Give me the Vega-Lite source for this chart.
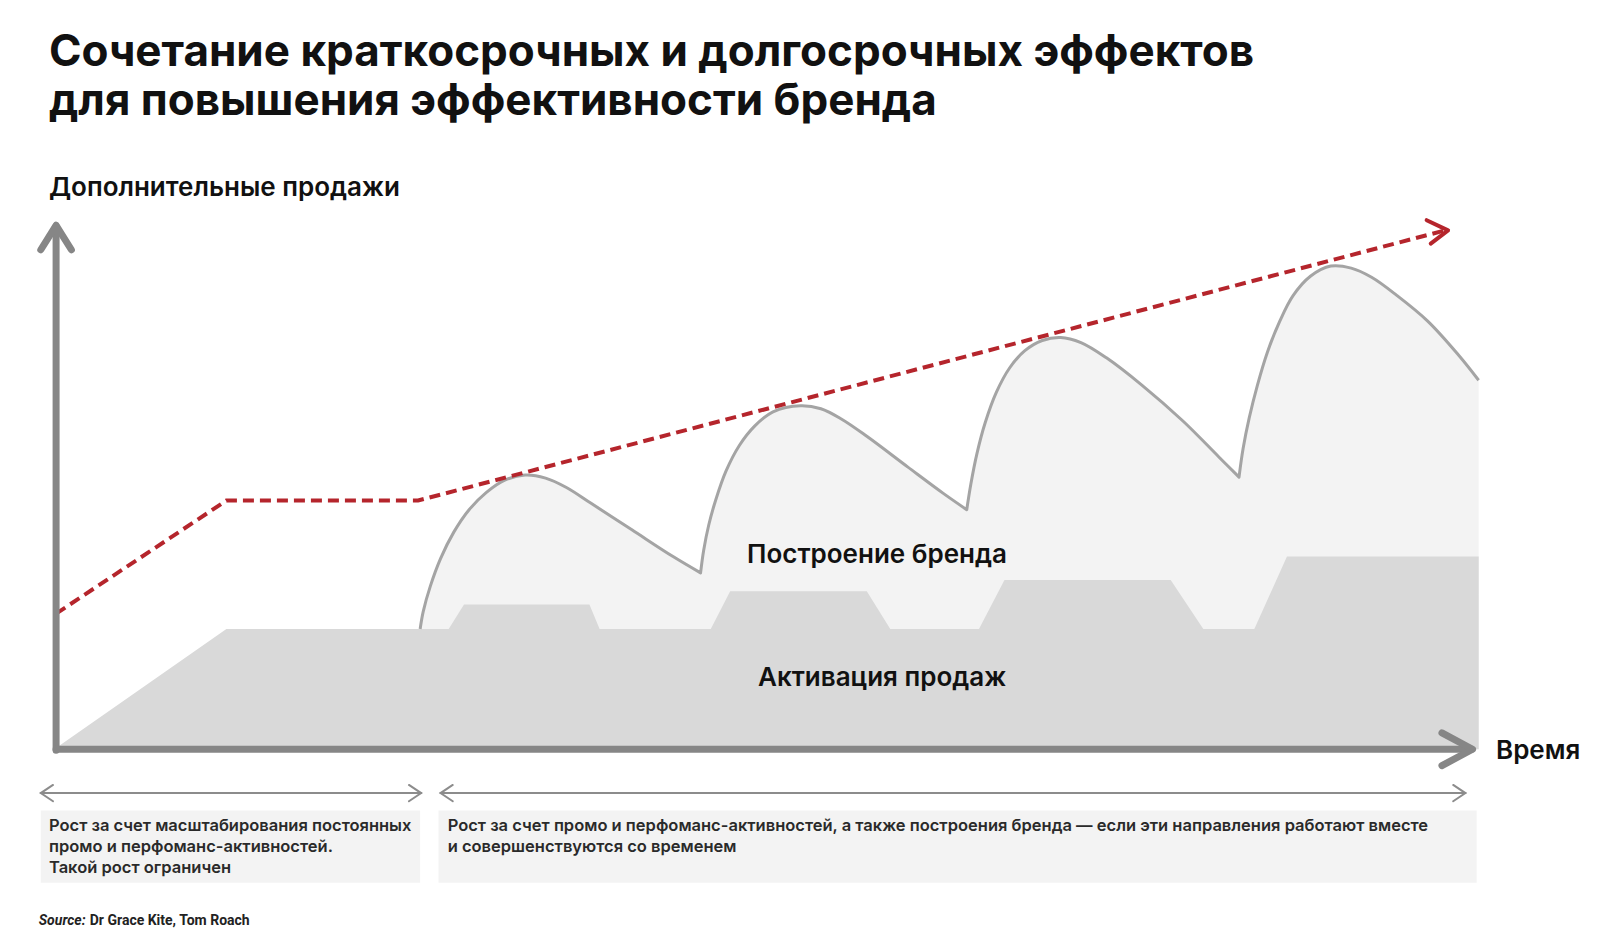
{
  "$schema": "https://vega.github.io/schema/vega-lite/v6.json",
  "width": 1599,
  "height": 946,
  "autosize": {"type": "fit", "contains": "padding"},
  "padding": 0,
  "background": "white",
  "datasets": {
    "activation": [
      {"x": 56, "y": 733}, {"x": 222, "y": 617}, {"x": 440, "y": 617}, {"x": 455, "y": 593},
      {"x": 578, "y": 593}, {"x": 588, "y": 617}, {"x": 697, "y": 617}, {"x": 716, "y": 580},
      {"x": 850, "y": 580}, {"x": 873, "y": 617}, {"x": 960, "y": 617}, {"x": 985, "y": 569},
      {"x": 1148, "y": 569}, {"x": 1180, "y": 617}, {"x": 1230, "y": 617}, {"x": 1262, "y": 546},
      {"x": 1450, "y": 546}
    ],
    "brand": [
      {"x": 412, "y": 617}, {"x": 415, "y": 600}, {"x": 422, "y": 575}, {"x": 432, "y": 548},
      {"x": 445, "y": 522}, {"x": 460, "y": 500}, {"x": 477, "y": 483}, {"x": 495, "y": 471},
      {"x": 515, "y": 466}, {"x": 535, "y": 469}, {"x": 555, "y": 478}, {"x": 580, "y": 494},
      {"x": 620, "y": 520}, {"x": 660, "y": 546}, {"x": 687, "y": 562}, {"x": 687, "y": 562},
      {"x": 690, "y": 540}, {"x": 695, "y": 515}, {"x": 702, "y": 490}, {"x": 712, "y": 462},
      {"x": 725, "y": 437}, {"x": 740, "y": 418}, {"x": 758, "y": 404}, {"x": 785, "y": 398},
      {"x": 805, "y": 401}, {"x": 825, "y": 411}, {"x": 850, "y": 428}, {"x": 890, "y": 458},
      {"x": 925, "y": 484}, {"x": 948, "y": 500}, {"x": 948, "y": 500},
      {"x": 952, "y": 475}, {"x": 958, "y": 445}, {"x": 966, "y": 415}, {"x": 977, "y": 385},
      {"x": 990, "y": 361}, {"x": 1005, "y": 344}, {"x": 1022, "y": 334}, {"x": 1040, "y": 331},
      {"x": 1060, "y": 336}, {"x": 1085, "y": 351}, {"x": 1120, "y": 378}, {"x": 1160, "y": 413},
      {"x": 1195, "y": 448}, {"x": 1215, "y": 468}, {"x": 1215, "y": 468},
      {"x": 1219, "y": 440}, {"x": 1225, "y": 410}, {"x": 1233, "y": 378}, {"x": 1243, "y": 345},
      {"x": 1255, "y": 315}, {"x": 1268, "y": 290}, {"x": 1285, "y": 271}, {"x": 1305, "y": 261},
      {"x": 1325, "y": 263}, {"x": 1345, "y": 272}, {"x": 1370, "y": 290}, {"x": 1400, "y": 315},
      {"x": 1430, "y": 348}, {"x": 1450, "y": 373}
    ],
    "trend": [
      {"part": "line", "i": 0, "x": 55, "y": 602}, {"part": "line", "i": 1, "x": 222, "y": 491},
      {"part": "line", "i": 2, "x": 410, "y": 491}, {"part": "line", "i": 3, "x": 1417, "y": 226},
      {"part": "head", "i": 0, "x": 1399, "y": 216}, {"part": "head", "i": 1, "x": 1420, "y": 226},
      {"part": "head", "i": 2, "x": 1403, "y": 239}
    ],
    "axes": [
      {"seg": "y", "i": 0, "x": 55, "y": 736}, {"seg": "y", "i": 1, "x": 55, "y": 222},
      {"seg": "yhead", "i": 0, "x": 40, "y": 245}, {"seg": "yhead", "i": 1, "x": 55, "y": 221},
      {"seg": "yhead", "i": 2, "x": 70, "y": 245},
      {"seg": "x", "i": 0, "x": 55, "y": 735}, {"seg": "x", "i": 1, "x": 1443, "y": 735},
      {"seg": "xhead", "i": 0, "x": 1414, "y": 719}, {"seg": "xhead", "i": 1, "x": 1444, "y": 735},
      {"seg": "xhead", "i": 2, "x": 1414, "y": 751}
    ],
    "brackets": [
      {"seg": "a", "i": 0, "x": 40, "y": 778}, {"seg": "a", "i": 1, "x": 413, "y": 778},
      {"seg": "al", "i": 0, "x": 52, "y": 770}, {"seg": "al", "i": 1, "x": 40, "y": 778}, {"seg": "al", "i": 2, "x": 52, "y": 786},
      {"seg": "ar", "i": 0, "x": 401, "y": 770}, {"seg": "ar", "i": 1, "x": 413, "y": 778}, {"seg": "ar", "i": 2, "x": 401, "y": 786},
      {"seg": "b", "i": 0, "x": 432, "y": 778}, {"seg": "b", "i": 1, "x": 1437, "y": 778},
      {"seg": "bl", "i": 0, "x": 444, "y": 770}, {"seg": "bl", "i": 1, "x": 432, "y": 778}, {"seg": "bl", "i": 2, "x": 444, "y": 786},
      {"seg": "br", "i": 0, "x": 1425, "y": 770}, {"seg": "br", "i": 1, "x": 1437, "y": 778}, {"seg": "br", "i": 2, "x": 1425, "y": 786}
    ],
    "boxes": [
      {"x": 40, "x2": 412, "y": 795, "y2": 866},
      {"x": 430, "x2": 1448, "y": 795, "y2": 866}
    ],
    "labels": [
      {"kind": "title", "x": 48, "y": 65, "text": "Сочетание краткосрочных и долгосрочных эффектов\nдля повышения эффективности бренда"},
      {"kind": "axis", "x": 48, "y": 192, "text": "Дополнительные продажи"},
      {"kind": "axis", "x": 1467, "y": 745, "text": "Время"},
      {"kind": "area", "x": 860, "y": 552, "text": "Построение бренда"},
      {"kind": "area", "x": 865, "y": 673, "text": "Активация продаж"},
      {"kind": "note", "x": 48, "y": 815, "text": "Рост за счет масштабирования постоянных\nпромо и перфоманс-активностей.\nТакой рост ограничен"},
      {"kind": "note", "x": 439, "y": 815, "text": "Рост за счет промо и перфоманс-активностей, а также построения бренда — если эти направления работают вместе\nи совершенствуются со временем"},
      {"kind": "source", "x": 38, "y": 907, "text": "Source:"},
      {"kind": "credit", "x": 88, "y": 907, "text": "Dr Grace Kite, Tom Roach"}
    ]
  },
  "encoding": {
    "x": {"field": "x", "type": "quantitative", "axis": null, "scale": {"domain": [0, 1568], "nice": false, "zero": false}},
    "y": {"field": "y", "type": "quantitative", "axis": null, "scale": {"domain": [0, 928], "reverse": true, "nice": false, "zero": false}}
  },
  "layer": [
    {
      "data": {"name": "brand"},
      "mark": {"type": "area", "color": "#f3f3f3", "interpolate": "catmull-rom"},
      "encoding": {"y2": {"datum": 735}}
    },
    {
      "data": {"name": "activation"},
      "mark": {"type": "area", "color": "#d9d9d9"},
      "encoding": {"y2": {"datum": 735}}
    },
    {
      "data": {"name": "brand"},
      "mark": {"type": "line", "color": "#a4a4a4", "strokeWidth": 3, "strokeJoin": "round", "interpolate": "catmull-rom"},
      "encoding": {}
    },
    {
      "data": {"name": "boxes"},
      "mark": {"type": "rect", "color": "#f3f3f3"},
      "encoding": {"x2": {"field": "x2"}, "y2": {"field": "y2"}}
    },
    {
      "data": {"name": "brackets"},
      "mark": {"type": "line", "color": "#8c8c8c", "strokeWidth": 2, "strokeCap": "round"},
      "encoding": {"detail": {"field": "seg"}, "order": {"field": "i"}}
    },
    {
      "data": {"name": "trend"},
      "transform": [{"filter": "datum.part === 'line'"}],
      "mark": {"type": "line", "color": "#b5252c", "strokeWidth": 4, "strokeDash": [11, 6]},
      "encoding": {"order": {"field": "i"}}
    },
    {
      "data": {"name": "trend"},
      "transform": [{"filter": "datum.part === 'head'"}],
      "mark": {"type": "line", "color": "#b5252c", "strokeWidth": 4, "strokeCap": "round", "strokeJoin": "round"},
      "encoding": {"order": {"field": "i"}}
    },
    {
      "data": {"name": "axes"},
      "mark": {"type": "line", "color": "#868686", "strokeWidth": 7, "strokeCap": "round", "strokeJoin": "round"},
      "encoding": {"detail": {"field": "seg"}, "order": {"field": "i"}}
    },
    {
      "data": {"name": "labels"},
      "transform": [{"filter": "datum.kind === 'title'"}],
      "mark": {"type": "text", "align": "left", "baseline": "alphabetic", "font": "Inter", "fontWeight": 700, "fontSize": 44, "lineHeight": 49, "lineBreak": "\n", "color": "#111111"},
      "encoding": {"text": {"field": "text"}}
    },
    {
      "data": {"name": "labels"},
      "transform": [{"filter": "datum.kind === 'axis'"}],
      "mark": {"type": "text", "align": "left", "baseline": "alphabetic", "font": "Inter", "fontWeight": 600, "fontSize": 26, "color": "#111111"},
      "encoding": {"text": {"field": "text"}}
    },
    {
      "data": {"name": "labels"},
      "transform": [{"filter": "datum.kind === 'area'"}],
      "mark": {"type": "text", "align": "center", "baseline": "alphabetic", "font": "Inter", "fontWeight": 600, "fontSize": 26, "color": "#111111"},
      "encoding": {"text": {"field": "text"}}
    },
    {
      "data": {"name": "labels"},
      "transform": [{"filter": "datum.kind === 'note'"}],
      "mark": {"type": "text", "align": "left", "baseline": "alphabetic", "font": "Inter", "fontWeight": 600, "fontSize": 16.5, "lineHeight": 21, "lineBreak": "\n", "color": "#2a2a2a"},
      "encoding": {"text": {"field": "text"}}
    },
    {
      "data": {"name": "labels"},
      "transform": [{"filter": "datum.kind === 'source'"}],
      "mark": {"type": "text", "align": "left", "baseline": "alphabetic", "font": "Roboto", "fontWeight": 700, "fontStyle": "italic", "fontSize": 14, "color": "#222222"},
      "encoding": {"text": {"field": "text"}}
    },
    {
      "data": {"name": "labels"},
      "transform": [{"filter": "datum.kind === 'credit'"}],
      "mark": {"type": "text", "align": "left", "baseline": "alphabetic", "font": "Roboto", "fontWeight": 700, "fontSize": 14, "color": "#222222"},
      "encoding": {"text": {"field": "text"}}
    }
  ],
  "config": {"view": {"stroke": null}}
}
